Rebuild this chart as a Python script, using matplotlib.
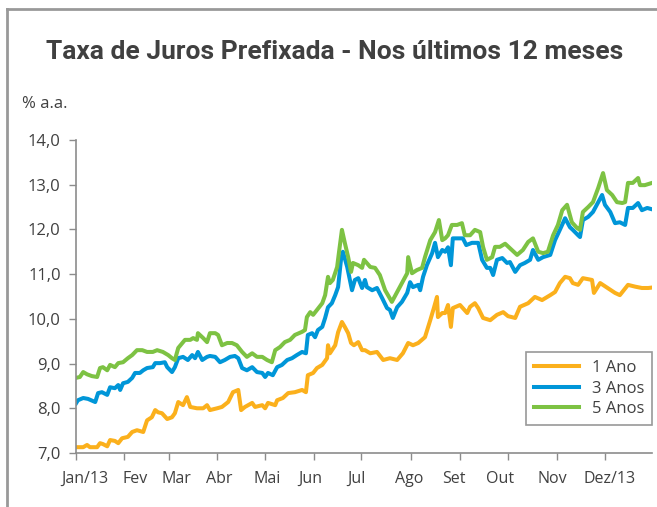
import matplotlib
matplotlib.use("Agg")
import matplotlib.pyplot as plt
from matplotlib import font_manager
from matplotlib.lines import Line2D

# dados (x em meses desde o início de jan/13)
x_1ano = [0.0, 0.15, 0.23, 0.29, 0.44, 0.5, 0.56, 0.65, 0.71, 0.81, 0.88, 0.96, 1.08, 1.17, 1.27, 1.4,
          1.48, 1.58, 1.65, 1.71, 1.79, 1.9, 2.0, 2.06, 2.13, 2.23, 2.31, 2.38, 2.52, 2.65, 2.73, 2.79,
          2.94, 3.04, 3.17, 3.27, 3.38, 3.44, 3.52, 3.67, 3.73, 3.88, 3.94, 4.0, 4.15, 4.19, 4.31, 4.42,
          4.56, 4.71, 4.79, 4.83, 4.94, 5.02, 5.13, 5.23, 5.25, 5.29, 5.4, 5.46, 5.54, 5.6, 5.67, 5.73,
          5.79, 5.88, 5.96, 6.02, 6.13, 6.27, 6.4, 6.54, 6.69, 6.81, 6.92, 7.02, 7.13, 7.27, 7.38, 7.46,
          7.52, 7.54, 7.63, 7.69, 7.75, 7.81, 7.85, 8.0, 8.15, 8.21, 8.31, 8.38, 8.48, 8.63, 8.77, 8.9,
          9.0, 9.15, 9.25, 9.42, 9.56, 9.71, 9.88, 9.98, 10.08, 10.19, 10.29, 10.35, 10.46, 10.56, 10.75,
          10.79, 10.92, 11.23, 11.33, 11.5, 11.65, 11.79, 11.92, 12.0]
y_1ano = [7.13, 7.13, 7.18, 7.13, 7.13, 7.22, 7.2, 7.15, 7.29, 7.27, 7.22, 7.33, 7.36, 7.47, 7.51, 7.47,
          7.73, 7.8, 7.96, 7.91, 7.89, 7.76, 7.8, 7.89, 8.14, 8.07, 8.25, 8.03, 8.0, 8.0, 8.07, 7.96,
          8.0, 8.03, 8.14, 8.36, 8.41, 7.96, 8.03, 8.12, 8.03, 8.07, 8.0, 8.12, 8.07, 8.18, 8.23, 8.34,
          8.36, 8.41, 8.36, 8.74, 8.79, 8.9, 8.97, 9.12, 9.41, 9.23, 9.41, 9.7, 9.93, 9.82, 9.68, 9.46,
          9.41, 9.48, 9.3, 9.3, 9.23, 9.26, 9.08, 9.12, 9.08, 9.23, 9.46, 9.41, 9.46, 9.59, 9.97, 10.26,
          10.49, 10.04, 10.13, 10.13, 10.31, 9.82, 10.24, 10.31, 10.13, 10.27, 10.35, 10.24, 10.02, 9.97, 10.09, 10.15,
          10.06, 10.02, 10.27, 10.35, 10.49, 10.42, 10.53, 10.6, 10.8, 10.94, 10.91, 10.8, 10.76, 10.91, 10.87,
          10.58, 10.8, 10.58, 10.53, 10.76, 10.72, 10.69, 10.69, 10.7]

x_3anos = [0.0, 0.04, 0.15, 0.25, 0.4, 0.46, 0.54, 0.65, 0.71, 0.81, 0.88, 0.92, 0.98, 1.08, 1.17, 1.23,
           1.33, 1.4, 1.48, 1.6, 1.65, 1.75, 1.85, 1.9, 2.0, 2.06, 2.13, 2.23, 2.33, 2.42, 2.48, 2.54,
           2.63, 2.73, 2.79, 2.9, 3.0, 3.1, 3.21, 3.31, 3.38, 3.46, 3.56, 3.67, 3.77, 3.88, 3.94, 4.0,
           4.1, 4.19, 4.29, 4.4, 4.5, 4.6, 4.71, 4.79, 4.83, 4.92, 4.98, 5.04, 5.13, 5.19, 5.25, 5.33,
           5.4, 5.46, 5.52, 5.56, 5.65, 5.75, 5.81, 5.88, 5.96, 6.02, 6.06, 6.17, 6.27, 6.38, 6.48, 6.54,
           6.6, 6.69, 6.79, 6.9, 6.96, 7.02, 7.13, 7.17, 7.23, 7.31, 7.42, 7.48, 7.54, 7.63, 7.69, 7.75,
           7.81, 7.85, 7.96, 8.06, 8.13, 8.25, 8.38, 8.46, 8.56, 8.63, 8.69, 8.77, 8.88, 8.98, 9.04, 9.15,
           9.25, 9.35, 9.46, 9.52, 9.63, 9.73, 9.88, 9.98, 10.08, 10.19, 10.29, 10.35, 10.46, 10.5, 10.56,
           10.67, 10.77, 10.85, 10.96, 11.02, 11.13, 11.23, 11.33, 11.44, 11.5, 11.6, 11.71, 11.79, 11.9, 12.0]
y_3anos = [8.11, 8.18, 8.23, 8.21, 8.14, 8.34, 8.36, 8.3, 8.47, 8.45, 8.52, 8.41, 8.56, 8.59, 8.68, 8.79,
           8.79, 8.85, 8.9, 8.92, 9.01, 9.01, 9.03, 8.92, 8.81, 8.92, 9.12, 9.15, 9.08, 9.19, 9.12, 9.26,
           9.08, 9.15, 9.17, 9.15, 9.03, 9.08, 9.15, 9.17, 9.12, 8.9, 8.85, 8.92, 8.81, 8.79, 8.7, 8.79,
           8.74, 8.92, 8.97, 9.08, 9.12, 9.19, 9.26, 9.23, 9.64, 9.68, 9.59, 9.75, 9.82, 10.02, 10.26, 10.35,
           10.53, 10.71, 11.32, 11.5, 11.16, 10.64, 10.87, 10.91, 10.69, 10.87, 10.71, 10.64, 10.69, 10.46, 10.24, 10.2,
           10.02, 10.26, 10.38, 10.58, 10.82, 10.71, 10.76, 10.64, 10.94, 11.2, 11.47, 11.7, 11.38, 11.54, 11.5, 11.6,
           11.2, 11.8, 11.8, 11.8, 11.65, 11.7, 11.7, 11.32, 11.14, 11.14, 10.98, 11.32, 11.36, 11.25, 11.27, 11.05,
           11.2, 11.25, 11.32, 11.54, 11.32, 11.38, 11.43, 11.76, 11.99, 12.25, 12.05, 11.99, 11.87, 11.83, 12.21,
           12.28, 12.39, 12.55, 12.77, 12.55, 12.39, 12.14, 12.16, 12.1, 12.48, 12.48, 12.59, 12.43, 12.48, 12.45]

x_5anos = [0.0, 0.08, 0.15, 0.23, 0.33, 0.44, 0.5, 0.56, 0.65, 0.71, 0.81, 0.88, 0.98, 1.08, 1.17, 1.27,
           1.38, 1.48, 1.6, 1.69, 1.81, 1.92, 2.0, 2.06, 2.13, 2.27, 2.38, 2.44, 2.52, 2.54, 2.65, 2.73,
           2.79, 2.9, 2.96, 3.04, 3.15, 3.25, 3.35, 3.46, 3.56, 3.67, 3.77, 3.88, 3.98, 4.08, 4.15, 4.25,
           4.35, 4.46, 4.56, 4.71, 4.77, 4.81, 4.88, 4.94, 5.02, 5.13, 5.19, 5.25, 5.29, 5.35, 5.44, 5.48,
           5.54, 5.6, 5.67, 5.73, 5.77, 5.88, 5.96, 6.0, 6.13, 6.23, 6.33, 6.44, 6.5, 6.58, 6.69, 6.79,
           6.9, 6.92, 7.0, 7.1, 7.21, 7.27, 7.38, 7.48, 7.56, 7.63, 7.69, 7.75, 7.83, 7.94, 8.04, 8.1,
           8.21, 8.31, 8.42, 8.48, 8.56, 8.67, 8.73, 8.83, 8.94, 9.04, 9.19, 9.31, 9.42, 9.52, 9.63, 9.73,
           9.83, 9.94, 10.04, 10.13, 10.23, 10.33, 10.44, 10.5, 10.56, 10.67, 10.77, 10.88, 10.98, 11.06, 11.17,
           11.27, 11.38, 11.44, 11.5, 11.6, 11.71, 11.75, 11.85, 12.0]
y_5anos = [8.68, 8.7, 8.81, 8.76, 8.72, 8.7, 8.9, 8.92, 8.85, 8.97, 8.92, 9.01, 9.03, 9.12, 9.19, 9.3,
           9.3, 9.26, 9.26, 9.3, 9.26, 9.19, 9.12, 9.08, 9.35, 9.53, 9.53, 9.57, 9.53, 9.68, 9.57, 9.48,
           9.68, 9.68, 9.64, 9.41, 9.46, 9.46, 9.41, 9.26, 9.15, 9.23, 9.15, 9.15, 9.08, 9.03, 9.3, 9.37,
           9.48, 9.53, 9.64, 9.71, 9.75, 10.04, 10.15, 10.09, 10.2, 10.35, 10.53, 10.94, 10.8, 10.87, 11.16, 11.5,
           11.99, 11.7, 11.38, 11.05, 11.25, 11.2, 11.14, 11.32, 11.16, 11.14, 10.98, 10.64, 10.53, 10.38, 10.6, 10.8,
           11.02, 11.38, 11.02, 11.09, 11.14, 11.38, 11.76, 11.94, 12.21, 11.76, 11.8, 11.87, 12.1, 12.1, 12.14, 11.87,
           11.87, 11.99, 11.94, 11.61, 11.32, 11.38, 11.61, 11.61, 11.68, 11.58, 11.43, 11.54, 11.72, 11.8, 11.5, 11.47,
           11.5, 11.87, 12.1, 12.43, 12.55, 12.16, 12.03, 11.99, 12.39, 12.5, 12.61, 12.93, 13.26, 12.88, 12.77,
           12.61, 12.59, 12.61, 13.04, 13.04, 13.15, 12.99, 12.99, 13.04]

month_ticks = [0, 1.01, 1.94, 2.94, 3.94, 4.96, 5.94, 6.98, 8.0, 9.0, 10.02, 11.02]
month_label_pos = [0.18, 1.23, 2.1, 2.99, 3.98, 4.89, 5.85, 6.94, 7.87, 8.84, 9.92, 11.12]
month_labels = ["Jan/13", "Fev", "Mar", "Abr", "Mai", "Jun", "Jul", "Ago", "Set", "Out", "Nov", "Dez/13"]
y_ticks = [7, 8, 9, 10, 11, 12, 13, 14]

names = {f.name for f in font_manager.fontManager.ttflist}
title_font = "Liberation Sans Narrow" if "Liberation Sans Narrow" in names else "Roboto"
plt.rcParams["font.family"] = ["Open Sans", "DejaVu Sans"]

text_color = "#404040"
axis_color = "#8c8c8c"

fig = plt.figure(figsize=(6.57, 5.07), dpi=100)
ax = fig.add_axes([0.1157, 0.1065, 0.8767, 0.6174])

ax.plot(x_1ano, y_1ano, color="#FBB01C", lw=2.9, label="1 Ano")
ax.plot(x_3anos, y_3anos, color="#0096D8", lw=2.9, label="3 Anos")
ax.plot(x_5anos, y_5anos, color="#7DC243", lw=2.9, label="5 Anos")

ax.set_xlim(0, 12)
ax.set_ylim(7, 14)
ax.set_yticks(y_ticks)
ax.set_yticklabels([f"{v:.1f}".replace(".", ",") for v in y_ticks])
ax.set_xticks(month_ticks)
ax.set_xticklabels([])
ax.set_xticks(month_label_pos, minor=True)
ax.set_xticklabels(month_labels, minor=True)
ax.tick_params(axis="x", which="major", length=5, width=1, color=axis_color, direction="out")
ax.tick_params(axis="x", which="minor", length=0, pad=13, labelsize=11.5, labelcolor=text_color)
ax.tick_params(axis="y", length=5, width=1, color=axis_color, direction="out", pad=6,
               labelsize=12, labelcolor=text_color)
for s in ["top", "right"]:
    ax.spines[s].set_visible(False)
for s in ["left", "bottom"]:
    ax.spines[s].set_color(axis_color)
    ax.spines[s].set_linewidth(1.2)

leg = ax.legend(loc="lower right", bbox_to_anchor=(1.0, 0.09), frameon=True, fancybox=False,
                fontsize=12, handlelength=2.7, handletextpad=0.8, borderpad=0.45,
                labelspacing=0.28, borderaxespad=0)
leg.get_frame().set_edgecolor("#7f7f7f")
leg.get_frame().set_linewidth(1.2)
for t in leg.get_texts():
    t.set_color(text_color)

fig.text(0.51, 0.897, "Taxa de Juros Prefixada - Nos últimos 12 meses", ha="center", va="center",
         fontsize=19, fontweight="bold", color=text_color, family=[title_font, "DejaVu Sans"])
fig.text(0.033, 0.795, "% a.a.", ha="left", va="center", fontsize=12, color=text_color)

# moldura cinza (esquerda e topo)
fig.add_artist(Line2D([0.0107, 0.0107], [0, 0.982], color="#999999", lw=2, transform=fig.transFigure))
fig.add_artist(Line2D([0.0107, 1.0], [0.982, 0.982], color="#999999", lw=2, transform=fig.transFigure))

fig.savefig("out.png", dpi=100)
plt.close("all")
